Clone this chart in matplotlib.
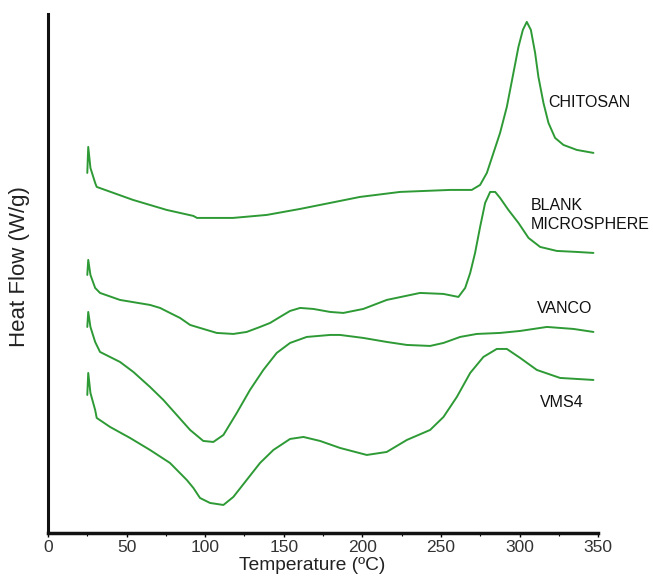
import matplotlib
matplotlib.use("Agg")
import matplotlib.pyplot as plt
from matplotlib.ticker import MultipleLocator

# Temperature (degC) and heat flow (arbitrary offset units)
chitosan_t = [25.0, 25.6, 27.0, 30.0, 31.0, 54.1, 75.5, 92.5, 94.8, 117.7, 139.2, 160.4,
              179.5, 198.5, 224.0, 255.8, 269.6, 274.9, 279.2, 283.4, 287.6, 291.9, 296.1,
              299.3, 302.1, 304.6, 307.2, 309.9, 312.0, 315.2, 318.4, 322.6, 327.9, 336.4,
              347.0]
chitosan_hf = [360, 386, 365, 350, 346, 333, 323, 317, 315, 315, 318, 324,
               330, 336, 341, 343, 343, 348, 360, 380, 400, 426, 460,
               486, 503, 511, 503, 480, 456, 430, 410, 395, 388, 383,
               380]

blank_t = [25.0, 25.6, 27.0, 30.0, 33.1, 45.8, 64.9, 71.3, 77.6, 84.0, 90.4, 96.7,
           107.4, 117.9, 126.4, 134.9, 141.3, 147.6, 154.0, 160.4, 168.8, 179.5, 187.9,
           200.6, 215.5, 236.7, 251.6, 261.1, 265.4, 268.6, 271.7, 274.9, 278.1, 281.3,
           284.5, 287.6, 292.9, 299.3, 305.7, 313.1, 323.7, 336.4, 347.0]
blank_hf = [258, 273, 258, 245, 240, 233, 228, 225, 220, 215, 208, 205,
            200, 199, 201, 206, 210, 216, 222, 225, 224, 221, 220,
            224, 233, 240, 239, 236, 245, 260, 280, 306, 330, 341,
            341, 335, 323, 310, 295, 286, 282, 281, 280]

vanco_t = [25.0, 25.6, 27.0, 30.0, 33.1, 45.8, 54.3, 64.9, 73.4, 81.9, 90.4, 98.8,
           105.2, 111.6, 120.1, 128.5, 137.0, 145.5, 154.0, 164.6, 179.5, 185.8, 200.6,
           215.5, 228.3, 243.1, 251.6, 262.2, 272.8, 287.6, 300.4, 317.4, 334.3, 347.0]
vanco_hf = [206, 221, 206, 191, 181, 171, 161, 146, 133, 118, 103, 92,
            91, 98, 120, 143, 163, 180, 190, 196, 198, 198, 195,
            191, 188, 187, 190, 196, 199, 200, 202, 206, 204, 201]

vms4_t = [25.0, 25.6, 27.0, 30.0, 31.0, 39.5, 52.2, 64.9, 77.6, 88.3, 92.5, 96.7,
          103.1, 111.6, 117.9, 126.4, 134.9, 143.4, 154.0, 162.5, 173.1, 185.8, 202.8,
          215.5, 228.3, 243.1, 251.6, 260.1, 268.6, 277.0, 285.5, 291.9, 300.4, 311.0,
          325.8, 347.0]
vms4_hf = [138, 160, 140, 123, 115, 106, 95, 83, 70, 53, 45, 35,
           30, 28, 36, 53, 70, 83, 94, 96, 92, 85, 78,
           81, 93, 103, 116, 136, 160, 176, 184, 184, 175, 163,
           155, 153]

labels = ["CHITOSAN", "BLANK\nMICROSPHERE", "VANCO", "VMS4"]
label_t = [318.2, 307.4, 311.2, 313.1]
label_hf = [430, 318, 224, 130]

green = "#2e9a35"

plt.rcParams["font.family"] = ["Liberation Sans", "DejaVu Sans"]

fig = plt.figure(figsize=(6.53, 5.79), dpi=100)
ax = fig.add_axes([0.0735, 0.0795, 0.8425, 0.8965])

for t, hf in [(chitosan_t, chitosan_hf), (blank_t, blank_hf),
              (vanco_t, vanco_hf), (vms4_t, vms4_hf)]:
    ax.plot(t, hf, color=green, linewidth=1.4, solid_joinstyle="round",
            solid_capstyle="round")

for txt, x, y in zip(labels, label_t, label_hf):
    ax.text(x, y, txt, fontsize=11.5, color="#111111", ha="left", va="center",
            linespacing=1.3)

ax.set_xlim(0, 350)
ax.set_ylim(0, 519)
ax.set_yticks([])
ax.xaxis.set_major_locator(MultipleLocator(50))
ax.xaxis.set_minor_locator(MultipleLocator(25))
ax.tick_params(axis="x", which="major", direction="out", length=3, width=1,
               labelsize=12.5, labelcolor="#333333", pad=2)
ax.tick_params(axis="x", which="minor", direction="out", length=2, width=0.8)

ax.spines["top"].set_visible(False)
ax.spines["right"].set_visible(False)
ax.spines["left"].set_linewidth(2.2)
ax.spines["bottom"].set_linewidth(2.5)
ax.spines["left"].set_color("#111111")
ax.spines["bottom"].set_color("#111111")

ax.set_xlabel("Temperature (ºC)", fontsize=13.8, color="#222222")
ax.xaxis.set_label_coords(0.481, -0.046)
ax.set_ylabel("Heat Flow (W/g)", fontsize=16, color="#222222", va="center")
ax.yaxis.set_label_coords(-0.051, 0.514)

fig.savefig("out.png", dpi=100)
